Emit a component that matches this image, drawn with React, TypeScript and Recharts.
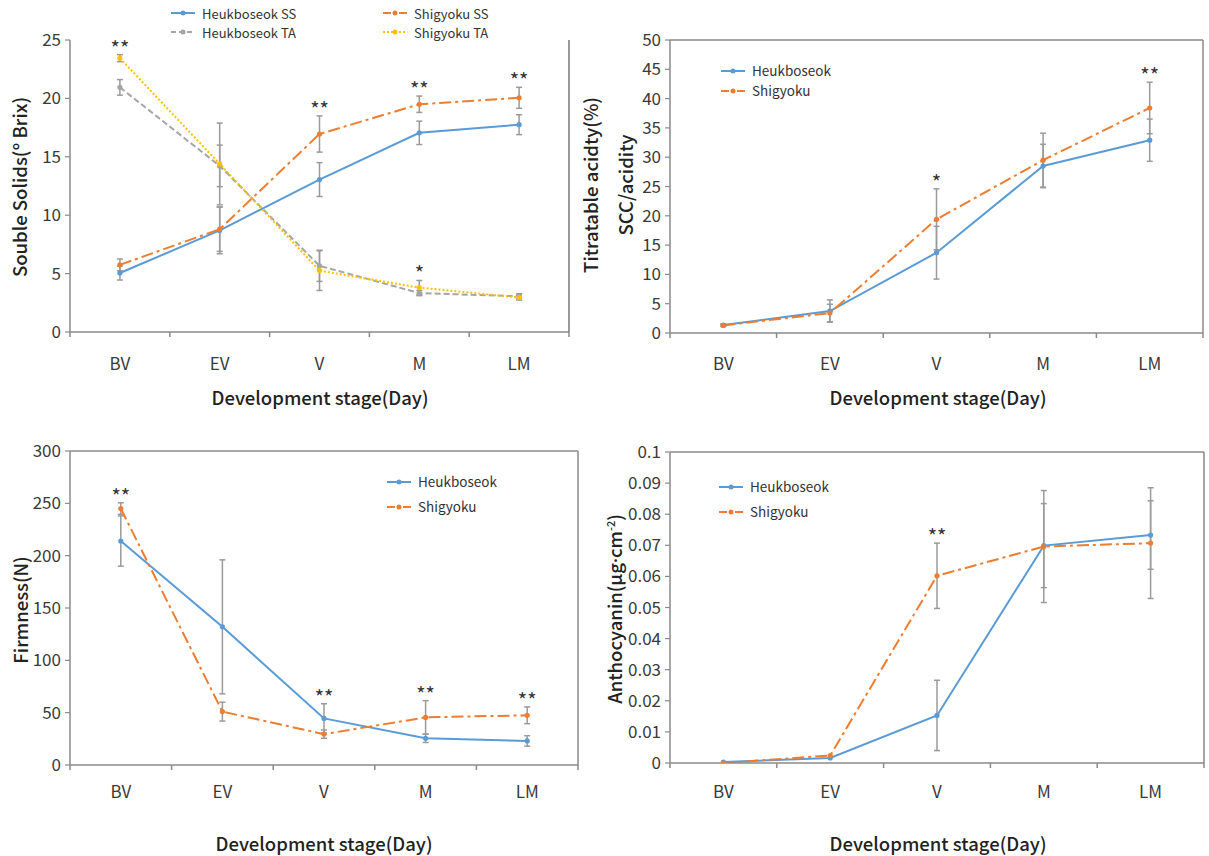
import React from 'react';
import { LineChart, Line, XAxis, YAxis, ErrorBar, LabelList, Legend, ReferenceLine } from 'recharts';

// ---------- categories ----------
const stages = ['BV', 'EV', 'V', 'M', 'LM'];

// ---------- Soluble solids (°Brix) & titratable acidity (%) ----------
const heukSS = [5.05, 8.7, 13.05, 17.05, 17.75];
const heukSSErr = [0.6, 2.0, 1.45, 1.0, 0.85];
const shigSS = [5.75, 8.8, 16.95, 19.5, 20.05];
const shigSSErr = [0.5, 1.9, 1.55, 0.7, 0.9];
const heukTA = [1.885, 1.28, 0.51, 0.3, 0.275];
const heukTAErr = [0.06, 0.16, 0.12, 0.02, 0.02];
const shigTA = [2.11, 1.295, 0.473, 0.342, 0.266];
const shigTAErr = [0.027, 0.315, 0.153, 0.055, 0.02];
const ssStars = ['', '', '**', '**', '**'];
const taStars = ['**', '', '', '*', ''];
const ssTicks = [0, 5, 10, 15, 20, 25];
const taTicks = Array.from({ length: 46 }, (_, i) => Number((i * 0.05).toFixed(2)));

// ---------- SSC / acidity ----------
const heukSCC = [1.35, 3.75, 13.7, 28.5, 32.9];
const heukSCCErr = [0.2, 1.9, 4.5, 3.7, 3.6];
const shigSCC = [1.3, 3.4, 19.4, 29.5, 38.4];
const shigSCCErr = [0.2, 1.5, 5.2, 4.6, 4.4];
const sccStars = ['', '', '*', '', '**'];
const sccTicks = [0, 5, 10, 15, 20, 25, 30, 35, 40, 45, 50];

// ---------- Firmness (N) ----------
const heukFirm = [214, 132, 44.5, 25.5, 23];
const heukFirmErr = [24, 64, 14, 4, 5];
const shigFirm = [245, 51, 29.5, 45.5, 47.5];
const shigFirmErr = [5.5, 9, 4, 16, 8];
const firmStars = ['**', '', '**', '**', '**'];
const firmTicks = [0, 50, 100, 150, 200, 250, 300];

// ---------- Anthocyanin ----------
const heukAnth = [0.0003, 0.0016, 0.0153, 0.0699, 0.0733];
const heukAnthErr = [0, 0, 0.0113, 0.0135, 0.011];
const shigAnth = [0, 0.0024, 0.0602, 0.0696, 0.0707];
const shigAnthErr = [0, 0, 0.0105, 0.018, 0.0178];
const anthStars = ['', '', '**', '', ''];
const anthTicks = [0, 0.01, 0.02, 0.03, 0.04, 0.05, 0.06, 0.07, 0.08, 0.09, 0.1];

// ---------- styles ----------
const FONT = '"Noto Sans CJK KR", "Noto Sans", sans-serif';
const LATIN = '"Noto Sans", sans-serif';
const BLUE = '#5B9BD5';
const ORANGE = '#ED7D31';
const GRAY = '#A5A5A5';
const YELLOW = '#FFC000';
const AXIS = '#8a8a8a';
const ERR = '#9a9a9a';
const DASHDOT = '12 4 3 4';

type Series = {
  name: string;
  values: number[];
  errs: number[];
  color: string;
  dash?: string;
  legendDash?: string;
  axis: 'L' | 'R';
};
type Stars = { labels: string[]; axis: 'L' | 'R'; over: number[] };

type PanelProps = {
  left: number;
  top: number;
  width: number;
  height: number;
  margin: { top: number; right: number; bottom: number; left: number };
  xAxisHeight: number;
  labelDy: number;
  yDomain: [number, number];
  yTicks: number[];
  right?: { domain: [number, number]; ticks: number[] };
  box: boolean;
  series: Series[];
  stars: Stars[];
  legend: { left: number; top: number; colW: number; cols: number; rowH: number; font: number };
};

const xTicks = stages.flatMap((_, i) => [i, i + 0.5]).concat(stages.length);

const StageTick = (props: any) => {
  const { x, y, payload, labelDy } = props;
  const v = payload.value as number;
  if (Number.isInteger(v)) {
    return <line x1={x} x2={x} y1={y} y2={y + 5} stroke={AXIS} strokeWidth={1.5} />;
  }
  return (
    <text
      x={x}
      y={y + labelDy}
      textAnchor="middle"
      dominantBaseline="central"
      fontSize={17}
      fill="#3a3a3a"
      fontFamily={FONT}
    >
      {stages[Math.floor(v)]}
    </text>
  );
};

const fmt = (v: number) => String(v);

const Panel = (p: PanelProps) => {
  const rows = stages.map((st, i) => {
    const r: any = { x: i + 0.5, stage: st };
    p.series.forEach((s, k) => {
      r['v' + k] = s.values[i];
      r['e' + k] = s.errs[i];
    });
    p.stars.forEach((g, k) => {
      const lab = g.labels[i];
      r['sl' + k] = lab ? lab : undefined;
      r['sy' + k] = lab ? Math.max(...g.over.map((j) => p.series[j].values[i] + p.series[j].errs[i])) : null;
    });
    return r;
  });

  const legendContent = () => (
    <div
      style={{
        display: 'grid',
        gridTemplateColumns: `repeat(${p.legend.cols}, ${p.legend.colW}px)`,
        fontFamily: FONT,
      }}
    >
      {p.series.map((s) => (
        <div key={s.name} style={{ display: 'flex', alignItems: 'center', height: p.legend.rowH }}>
          <svg width={24} height={10} style={{ display: 'block' }}>
            <line x1={0} x2={24} y1={5} y2={5} stroke={s.color} strokeWidth={2} strokeDasharray={s.legendDash} />
            <circle cx={12} cy={5} r={2.5} fill={s.color} />
          </svg>
          <span
            style={{ marginLeft: 7, fontSize: p.legend.font, color: '#333', whiteSpace: 'nowrap', lineHeight: 1 }}
          >
            {s.name}
          </span>
        </div>
      ))}
    </div>
  );

  return (
    <div style={{ position: 'absolute', left: p.left, top: p.top, width: p.width, height: p.height }}>
      <LineChart width={p.width} height={p.height} data={rows} margin={p.margin}>
        <XAxis
          dataKey="x"
          type="number"
          domain={[0, stages.length]}
          ticks={xTicks}
          interval={0}
          tick={(tp: any) => <StageTick {...tp} labelDy={p.labelDy} />}
          tickLine={false}
          tickSize={0}
          tickMargin={0}
          height={p.xAxisHeight}
          axisLine={{ stroke: AXIS, strokeWidth: 1.5 }}
          allowDataOverflow
        />
        <YAxis
          yAxisId="L"
          domain={p.yDomain}
          ticks={p.yTicks}
          interval={0}
          width={60}
          tickSize={5}
          tickMargin={4}
          tick={{ fontSize: 17, fill: '#3a3a3a', fontFamily: FONT }}
          tickLine={{ stroke: AXIS, strokeWidth: 1.2 }}
          axisLine={{ stroke: AXIS, strokeWidth: 1.5 }}
          tickFormatter={fmt}
          allowDataOverflow
        />
        {p.right ? (
          <YAxis
            yAxisId="R"
            orientation="right"
            domain={p.right.domain}
            ticks={p.right.ticks}
            interval={0}
            width={20}
            tick={false}
            tickSize={4}
            tickLine={{ stroke: '#777', strokeWidth: 1 }}
            axisLine={{ stroke: '#777', strokeWidth: 1.5 }}
            allowDataOverflow
          />
        ) : null}
        {p.box ? <ReferenceLine yAxisId="L" y={p.yDomain[1]} stroke={AXIS} strokeWidth={1.5} /> : null}
        {p.box ? <ReferenceLine yAxisId="L" x={stages.length} stroke={AXIS} strokeWidth={1.5} /> : null}
        {p.series.map((s, k) => (
          <Line
            key={s.name}
            name={s.name}
            yAxisId={s.axis}
            dataKey={'v' + k}
            stroke={s.color}
            strokeWidth={2}
            strokeDasharray={s.dash}
            dot={{ r: 2.6, fill: s.color, stroke: s.color, strokeWidth: 0 }}
            activeDot={false}
            isAnimationActive={false}
          >
            <ErrorBar dataKey={'e' + k} direction="y" width={3} stroke={ERR} strokeWidth={1.5} />
          </Line>
        ))}
        {p.stars.map((g, k) => (
          <Line
            key={'stars' + k}
            yAxisId={g.axis}
            dataKey={'sy' + k}
            stroke="none"
            dot={false}
            activeDot={false}
            legendType="none"
            isAnimationActive={false}
          >
            <LabelList
              dataKey={'sl' + k}
              position="top"
              offset={-1}
              style={{ fontSize: 20, fill: '#333', fontFamily: FONT }}
            />
          </Line>
        ))}
        <Legend
          layout="vertical"
          align="center"
          verticalAlign="middle"
          content={legendContent}
          wrapperStyle={{ left: p.legend.left, top: p.legend.top, width: p.legend.colW * p.legend.cols }}
        />
      </LineChart>
    </div>
  );
};

const Title = ({ x, y, rotate, children }: { x: number; y: number; rotate?: boolean; children: React.ReactNode }) => (
  <div
    style={{
      position: 'absolute',
      left: x,
      top: y,
      transform: `translate(-50%, -50%)${rotate ? ' rotate(-90deg)' : ''}`,
      whiteSpace: 'nowrap',
      fontFamily: FONT,
      fontSize: 18.5,
      fontWeight: 500,
      color: '#222',
      lineHeight: 1,
    }}
  >
    {children}
  </div>
);

const blueS = (name: string, values: number[], errs: number[]): Series => ({
  name,
  values,
  errs,
  color: BLUE,
  axis: 'L',
});
const orangeS = (name: string, values: number[], errs: number[]): Series => ({
  name,
  values,
  errs,
  color: ORANGE,
  dash: DASHDOT,
  legendDash: '8 3 2 3',
  axis: 'L',
});

export default function App() {
  return (
    <div
      style={{
        position: 'absolute',
        left: 0,
        top: 0,
        width: 1209,
        height: 856,
        background: '#fff',
        overflow: 'hidden',
      }}
    >
      <Panel
        left={0}
        top={0}
        width={600}
        height={420}
        margin={{ top: 40, right: 11, left: 10, bottom: 0 }}
        xAxisHeight={88}
        labelDy={30}
        yDomain={[0, 25]}
        yTicks={ssTicks}
        right={{ domain: [0, 2.25], ticks: taTicks }}
        box={false}
        series={[
          blueS('Heukboseok SS', heukSS, heukSSErr),
          orangeS('Shigyoku SS', shigSS, shigSSErr),
          { name: 'Heukboseok TA', values: heukTA, errs: heukTAErr, color: GRAY, dash: '6 3', legendDash: '5 3', axis: 'R' },
          { name: 'Shigyoku TA', values: shigTA, errs: shigTAErr, color: YELLOW, dash: '2 2', legendDash: '2 2', axis: 'R' },
        ]}
        stars={[
          { labels: ssStars, axis: 'L', over: [0, 1] },
          { labels: taStars, axis: 'R', over: [2, 3] },
        ]}
        legend={{ left: 171, top: 3.5, colW: 212, cols: 2, rowH: 19, font: 13 }}
      />
      <Panel
        left={600}
        top={0}
        width={609}
        height={420}
        margin={{ top: 40, right: 6, left: 10, bottom: 0 }}
        xAxisHeight={87}
        labelDy={29}
        yDomain={[0, 50]}
        yTicks={sccTicks}
        box={true}
        series={[blueS('Heukboseok', heukSCC, heukSCCErr), orangeS('Shigyoku', shigSCC, shigSCCErr)]}
        stars={[{ labels: sccStars, axis: 'L', over: [0, 1] }]}
        legend={{ left: 121, top: 61, colW: 150, cols: 1, rowH: 20, font: 13.5 }}
      />
      <Panel
        left={0}
        top={430}
        width={600}
        height={426}
        margin={{ top: 21, right: 22, left: 10, bottom: 0 }}
        xAxisHeight={91}
        labelDy={25}
        yDomain={[0, 300]}
        yTicks={firmTicks}
        box={true}
        series={[blueS('Heukboseok', heukFirm, heukFirmErr), orangeS('Shigyoku', shigFirm, shigFirmErr)]}
        stars={[{ labels: firmStars, axis: 'L', over: [0, 1] }]}
        legend={{ left: 387, top: 39.5, colW: 150, cols: 1, rowH: 25, font: 13.5 }}
      />
      <Panel
        left={600}
        top={430}
        width={609}
        height={426}
        margin={{ top: 22, right: 5, left: 10, bottom: 0 }}
        xAxisHeight={93}
        labelDy={27}
        yDomain={[0, 0.1]}
        yTicks={anthTicks}
        box={true}
        series={[blueS('Heukboseok', heukAnth, heukAnthErr), orangeS('Shigyoku', shigAnth, shigAnthErr)]}
        stars={[{ labels: anthStars, axis: 'L', over: [0, 1] }]}
        legend={{ left: 119, top: 44.5, colW: 150, cols: 1, rowH: 25, font: 13.5 }}
      />

      <Title x={20} y={187} rotate>
        Souble Solids(<span style={{ fontFamily: LATIN }}>°</span> Brix)
      </Title>
      <Title x={590} y={185} rotate>
        Titratable acidty(%)
      </Title>
      <Title x={320} y={397}>Development stage(Day)</Title>

      <Title x={625} y={185} rotate>
        SCC/acidity
      </Title>
      <Title x={938} y={397}>Development stage(Day)</Title>

      <Title x={20} y={610} rotate>
        Firmness(N)
      </Title>
      <Title x={324} y={843}>Development stage(Day)</Title>

      <Title x={615} y={609} rotate>
        <span>
          Anthocyanin(μg<span style={{ fontFamily: LATIN }}>·</span>cm
          <sup style={{ fontSize: 11 }}>-2</sup>)
        </span>
      </Title>
      <Title x={938} y={843}>Development stage(Day)</Title>
    </div>
  );
}
